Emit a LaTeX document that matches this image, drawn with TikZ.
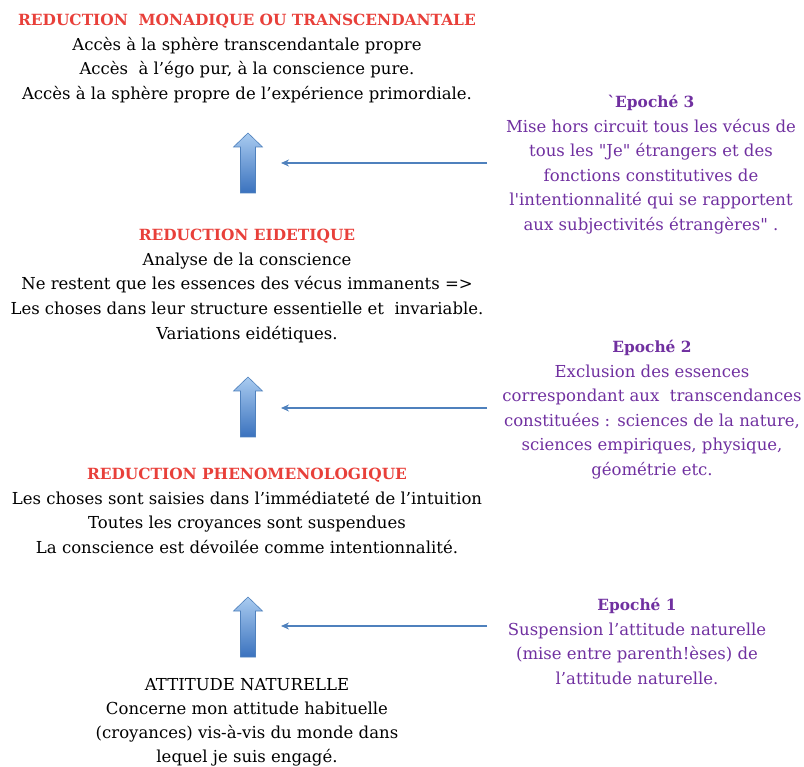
\documentclass[tikz,border=0pt]{standalone}
\usepackage{fontspec}
\setmainfont{DejaVu Serif}[Ligatures=TeXOff]
\usetikzlibrary{arrows.meta}
\definecolor{redt}{HTML}{E8403A}
\definecolor{purp}{HTML}{7030A0}
\definecolor{arrowblue}{HTML}{4F81BD}
\definecolor{lightblue}{HTML}{A9CBF0}
\definecolor{darkblue}{HTML}{3A72BE}
\newcommand{\ttlfont}{\fontsize{15.4}{24.6}\selectfont\bfseries}
\begin{document}
\begin{tikzpicture}[x=1pt,y=-1pt,
  txt/.style={align=center, inner sep=0pt, anchor=north, font=\fontsize{16.5}{24.6}\selectfont},
  lefttxt/.style={txt, text=black},
  righttxt/.style={txt, text=purp},
  barrow/.style={draw=arrowblue, line width=0.6pt, top color=lightblue, bottom color=darkblue},
  link/.style={draw=arrowblue, line width=1.6pt, -{Stealth[length=8pt,width=7pt]}}]
\useasboundingbox (0,0) rectangle (804,767);

% left blocks
\node[lefttxt] (b1) at (247,14) {{\ttlfont\color{redt}REDUCTION\ \ MONADIQUE OU TRANSCENDANTALE}\\
Accès à la sphère transcendantale propre\\
Accès\ \ à l’égo pur, à la conscience pure.\\
Accès à la sphère propre de l’expérience primordiale.};

\node[lefttxt] (b2) at (247,229) {{\ttlfont\color{redt}REDUCTION EIDETIQUE}\\
Analyse de la conscience\\
Ne restent que les essences des vécus immanents =>\\
Les choses dans leur structure essentielle et\ \ invariable.\\
Variations eidétiques.};

\node[lefttxt] (b3) at (247,468) {{\ttlfont\color{redt}REDUCTION PHENOMENOLOGIQUE}\\
Les choses sont saisies dans l’immédiateté de l’intuition\\
Toutes les croyances sont suspendues\\
La conscience est dévoilée comme intentionnalité.};

\node[lefttxt, font=\fontsize{16.5}{24}\selectfont] (b4) at (247,678) {ATTITUDE NATURELLE\\
Concerne mon attitude habituelle\\
(croyances) vis-à-vis du monde dans\\
lequel je suis engagé.};

% right blocks
\node[righttxt] (e3) at (651,95) {{\ttlfont `Epoché 3}\\
Mise hors circuit tous les vécus de\\
tous les "Je" étrangers et des\\
fonctions constitutives de\\
l'intentionnalité qui se rapportent\\
aux subjectivités étrangères" .};

\node[righttxt] (e2) at (652,340) {{\ttlfont Epoché 2}\\
Exclusion des essences\\
correspondant aux\ \ transcendances\\
constituées : sciences de la nature,\\
sciences empiriques, physique,\\
géométrie etc.};

\node[righttxt] (e1) at (637,598) {{\ttlfont Epoché 1}\\
Suspension l’attitude naturelle\\
(mise entre parenth!èses) de\\
l’attitude naturelle.};

% block arrows
\foreach \t in {133,377,597}{
  \path[barrow] (248,\t) -- ++(14.5,14) -- ++(-7,0) -- ++(0,46) -- ++(-15,0) -- ++(0,-46) -- ++(-7,0) -- cycle;
}

% horizontal connectors
\coordinate (s3) at (487,163); \coordinate (t3) at (281,163);
\coordinate (s2) at (487,408); \coordinate (t2) at (281,408);
\coordinate (s1) at (487,626); \coordinate (t1) at (281,626);
\draw[link] (s3) -- (t3);
\draw[link] (s2) -- (t2);
\draw[link] (s1) -- (t1);
\end{tikzpicture}
\end{document}
